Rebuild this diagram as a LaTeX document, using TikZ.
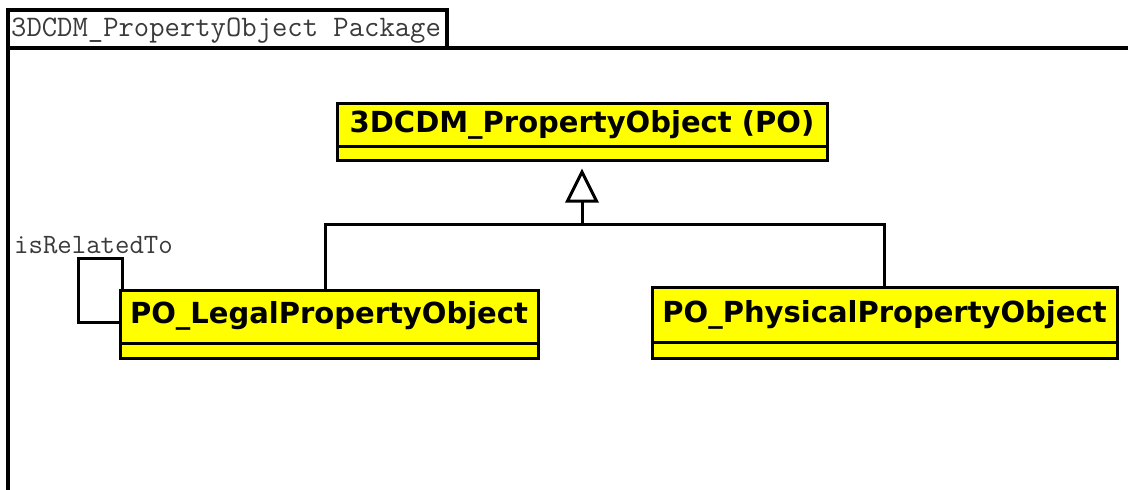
\documentclass[tikz,border=0pt]{standalone}
\usepackage{fontspec}
\setmainfont{DejaVu Sans}
\usetikzlibrary{arrows.meta}
\definecolor{umlyellow}{HTML}{FFFF00}
\definecolor{tabtext}{HTML}{3A3A3A}
\tikzset{
  x=1pt,y=-1pt,
  frameline/.style={line width=3.2pt,black},
  cbox/.style={draw=black,line width=3pt,fill=umlyellow,inner sep=0pt},
  ctext/.style={font=\bfseries\fontsize{29}{30}\selectfont,inner sep=0pt,text=black},
  monotext/.style={font=\ttfamily\fontsize{29.8}{31}\selectfont,text=tabtext,inner sep=0pt},
  conn/.style={line width=3pt,black},
}
\begin{document}
\begin{tikzpicture}
\useasboundingbox (0,0) rectangle (1128,490);
\fill[white] (0,0) rectangle (1128,490);
% package frame
\draw[frameline] (8,495) -- (8,10) -- (447,10) -- (447,48);
\draw[frameline] (8,48) -- (1135,48);
\node[monotext,anchor=west] (pkg) at (11,31) {3DCDM\_PropertyObject Package};
% classes
\node[cbox,minimum width=490pt,minimum height=57pt] (po) at (582,131.5) {};
\draw[conn] (337,146) -- (827,146);
\node[ctext] (pot) at (582,124.5) {3DCDM\_PropertyObject (PO)};
\node[cbox,minimum width=418pt,minimum height=68pt] (legal) at (329,324) {};
\draw[conn] (120,343) -- (538,343);
\node[ctext] (legalt) at (329,316) {PO\_LegalPropertyObject};
\node[cbox,minimum width=465pt,minimum height=71pt] (phys) at (884.5,322.5) {};
\draw[conn] (652,342) -- (1117,342);
\node[ctext] (physt) at (884.5,314.5) {PO\_PhysicalPropertyObject};
% generalization
\coordinate (j) at (582,224);
\draw[conn] ([xshift=-4pt]legal.north) |- (j) -| (phys.north);
\draw[conn,-{Triangle[open,length=34pt,width=33pt,line width=3pt,fill=white]},shorten >=7pt] (j) -- (po.south);
% self association
\coordinate (l1) at (78,322);
\coordinate (l2) at (122,258);
\draw[conn] (legal.west |- l1) -- (l1) |- (l2) -- (l2 |- legal.north);
\node[monotext,font=\ttfamily\fontsize{28}{29}\selectfont,anchor=west] (rel) at (14,245) {isRelatedTo};
\end{tikzpicture}
\end{document}
